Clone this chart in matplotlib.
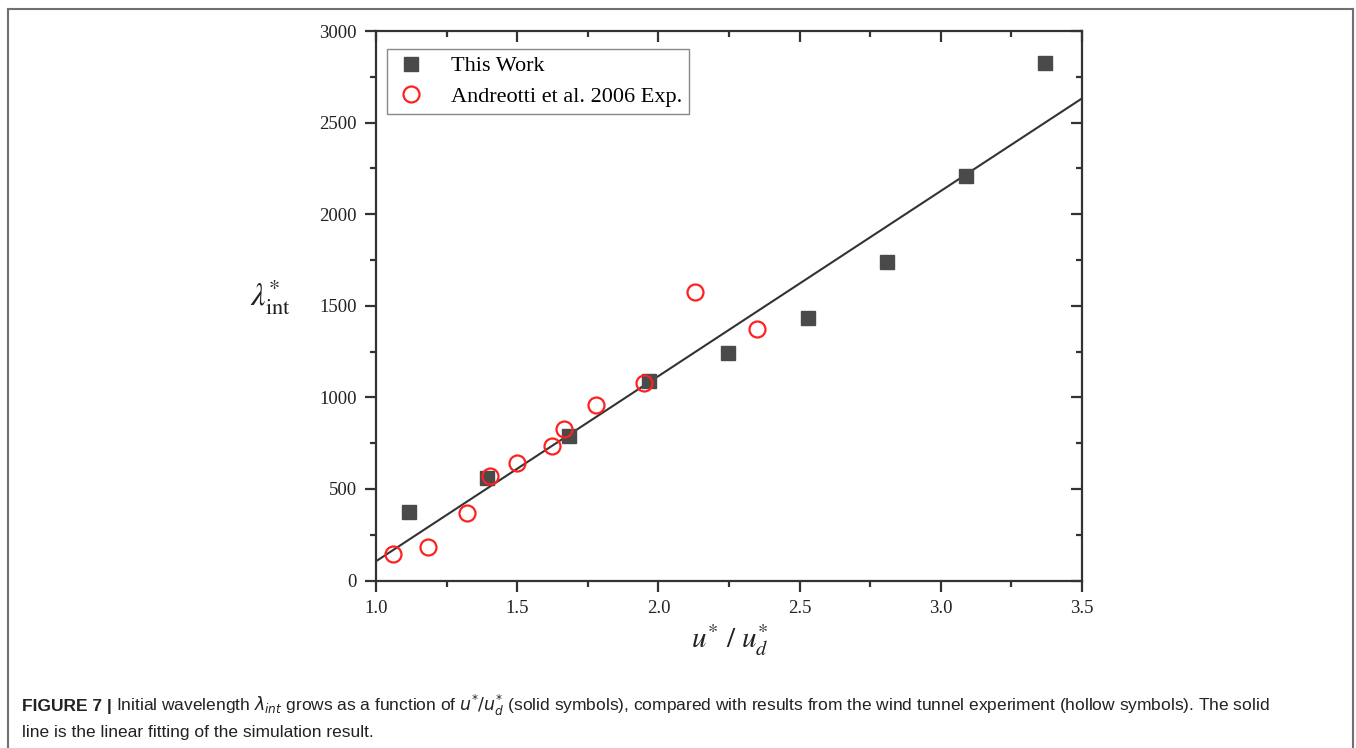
import matplotlib
matplotlib.use("Agg")
import matplotlib.pyplot as plt
from matplotlib.lines import Line2D
from matplotlib.ticker import MultipleLocator

# Simulation (This Work)
work_x = [1.117, 1.394, 1.682, 1.967, 2.247, 2.528, 2.809, 3.090, 3.370]
work_y = [373, 559, 788, 1089, 1242, 1433, 1739, 2209, 2826]

# Andreotti et al. 2006 wind tunnel experiment
exp_x = [1.060, 1.185, 1.323, 1.405, 1.498, 1.622, 1.665, 1.778, 1.949, 2.130, 2.350]
exp_y = [144, 182, 368, 570, 641, 733, 826, 958, 1078, 1575, 1373]

# linear fit of simulation result (end points)
fit_x = [1.0, 3.5]
fit_y = [105, 2632]

x_ticks = [1.0, 1.5, 2.0, 2.5, 3.0, 3.5]
x_ticklabels = ['1.0', '1.5', '2.0', '2.5', '3.0', '3.5']

W, H = 1356, 748
fig = plt.figure(figsize=(W / 100, H / 100), dpi=100)
ax = fig.add_axes([376 / W, 1 - 580.5 / H, 706 / W, 549.5 / H])

serif = ['Liberation Serif', 'DejaVu Serif']

ax.plot(fit_x, fit_y, color='#333333', lw=1.5, zorder=2)
ax.plot(work_x, work_y, ls='none', marker='s', ms=10.5, color='#4a4a4a',
        mec='#4a4a4a', label='This Work', zorder=3)
ax.plot(exp_x, exp_y, ls='none', marker='o', ms=11.5, mfc='none', mec='#ff2020',
        mew=1.6, label='Andreotti et al. 2006 Exp.', zorder=4)

ax.set_xticks(x_ticks)
ax.set_xticklabels(x_ticklabels)
ax.xaxis.set_minor_locator(MultipleLocator(0.25))
ax.yaxis.set_major_locator(MultipleLocator(500))
ax.yaxis.set_minor_locator(MultipleLocator(250))
ax.set_xlim(1.0, 3.5)
ax.set_ylim(0, 3000)

for s in ax.spines.values():
    s.set_linewidth(1.6)
    s.set_color('#333333')

ax.tick_params(axis='both', which='major', direction='out', length=8, width=1.6,
               color='#333333', labelsize=13.5, pad=6)
ax.tick_params(axis='both', which='minor', direction='out', length=4, width=1.6,
               color='#333333')
for lab in ax.get_xticklabels() + ax.get_yticklabels():
    lab.set_family(serif)
    lab.set_color('#222222')

# mirrored ticks on top and right, pointing inward
ax_top = ax.secondary_xaxis('top')
ax_top.xaxis.set_major_locator(MultipleLocator(0.5))
ax_top.xaxis.set_minor_locator(MultipleLocator(0.25))
ax_top.tick_params(which='major', direction='in', length=8, width=1.6, color='#333333',
                   labeltop=False)
ax_top.tick_params(which='minor', direction='in', length=4, width=1.6, color='#333333')
ax_top.spines['top'].set_visible(False)
ax_right = ax.secondary_yaxis('right')
ax_right.yaxis.set_major_locator(MultipleLocator(500))
ax_right.yaxis.set_minor_locator(MultipleLocator(250))
ax_right.tick_params(which='major', direction='in', length=8, width=1.6, color='#333333',
                     labelright=False)
ax_right.tick_params(which='minor', direction='in', length=4, width=1.6, color='#333333')
ax_right.spines['right'].set_visible(False)

fig.text(730 / W, 1 - 640 / H, r'$u^{*}\ /\ u_{d}^{*}$', fontsize=21,
         math_fontfamily='stix', ha='center', va='center', color='#222222')
fig.text(270 / W, 1 - 296 / H, r'$\lambda^{*}_{\mathrm{int}}$', fontsize=23,
         math_fontfamily='stix', ha='center', va='center', color='#222222')

leg = ax.legend(loc='upper left', bbox_to_anchor=(0.0156, 0.967), borderaxespad=0,
                fancybox=False, framealpha=1, edgecolor='#888888',
                prop={'family': serif, 'size': 16}, handletextpad=1.0,
                borderpad=0.3, labelspacing=0.45, handlelength=1.6)
leg.get_frame().set_linewidth(1.0)

# outer frame
frame_kw = dict(transform=fig.transFigure, color='#707070', lw=1.5)
fig.add_artist(Line2D([8 / W, 8 / W], [0, 1 - 9 / H], **frame_kw))
fig.add_artist(Line2D([8 / W, 1353 / W], [1 - 9 / H, 1 - 9 / H], **frame_kw))
fig.add_artist(Line2D([1353 / W, 1353 / W], [0, 1 - 9 / H], **frame_kw))

# caption
cap_font = ['Liberation Sans Narrow', 'Liberation Sans', 'DejaVu Sans']
t1 = fig.text(22 / W, 1 - 711 / H, 'FIGURE 7 |', fontsize=12.5, fontweight='bold',
              family=cap_font, color='#222222', va='baseline')
fig.canvas.draw()
bb = t1.get_window_extent()
fig.text((bb.x1 + 4) / W, 1 - 711 / H,
         r'Initial wavelength $\lambda_{int}$ grows as a function of $u^{*}/u_{d}^{*}$ '
         '(solid symbols), compared with results from the wind tunnel experiment '
         '(hollow symbols). The solid',
         fontsize=12.5, family=cap_font, math_fontfamily='dejavusans',
         color='#222222', va='baseline')
fig.text(22 / W, 1 - 737 / H, 'line is the linear fitting of the simulation result.',
         fontsize=12.5, family=cap_font, color='#222222', va='baseline')

fig.savefig('out.png', dpi=100)
